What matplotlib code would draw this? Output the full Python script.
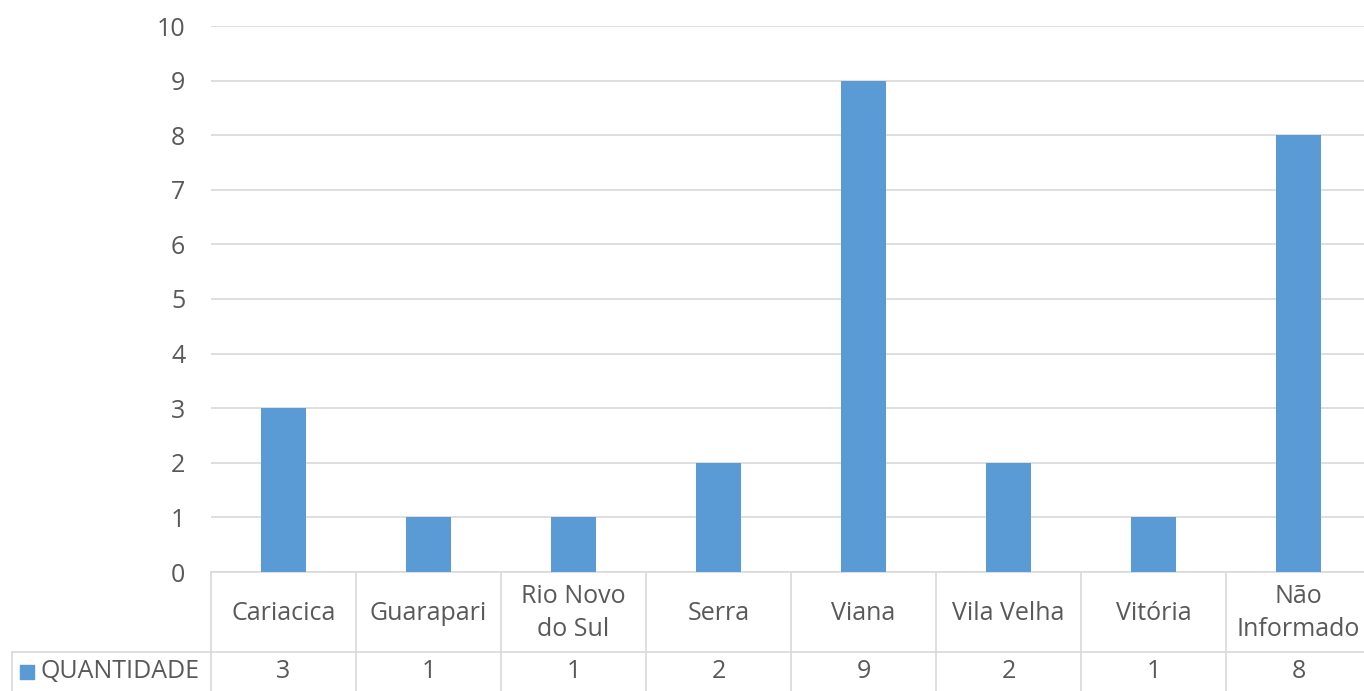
import matplotlib
matplotlib.use("Agg")
import matplotlib.pyplot as plt

categories = ["Cariacica", "Guarapari", "Rio Novo\ndo Sul", "Serra", "Viana",
              "Vila Velha", "Vitória", "Não\nInformado"]
quantidade = [3, 1, 1, 2, 9, 2, 1, 8]
series_name = "QUANTIDADE"
yticks = list(range(0, 11))

BLUE = "#5B9BD5"
GRID = "#D9D9D9"
TEXT = "#595959"
FS = 18

plt.rcParams["font.family"] = ["Open Sans", "DejaVu Sans"]

fig = plt.figure(figsize=(13.64, 6.91), dpi=100)
# plot area runs a little past the right edge of the image, as in the source
ax = fig.add_axes([211 / 1364, 119 / 691, 1160 / 1364, 546 / 691])

n = len(categories)
xs = [i + 0.5 for i in range(n)]
ax.bar(xs, quantidade, width=0.31, color=BLUE, zorder=3)

ax.set_xlim(0, n)
ax.set_ylim(0, 10)
ax.set_yticks(yticks)
ax.set_yticklabels([str(t) for t in yticks], fontsize=FS, color=TEXT)
ax.tick_params(axis="y", length=0, pad=18.5)
ax.set_xticks([])
ax.grid(axis="y", color=GRID, linewidth=1.2, zorder=0)
for s in ["top", "right", "left"]:
    ax.spines[s].set_visible(False)
ax.spines["bottom"].set_color(GRID)
ax.spines["bottom"].set_linewidth(1.2)

# data table below the axis
px = 1 / 546  # axes-fraction per pixel (vertical)
row1 = -80 * px
row2 = -119 * px
row_bottom = -125 * px  # table continues past the image edge
left_x = (12 - 211) / 1160 * n  # in data units
tr = ax.get_xaxis_transform()
line_kw = dict(color=GRID, linewidth=1.2, clip_on=False, transform=tr)

for i in range(n + 1):
    ax.plot([i, i], [0, row_bottom], **line_kw)
ax.plot([left_x, n], [row1, row1], **line_kw)
ax.plot([left_x, left_x], [row1, row_bottom], **line_kw)

for x, cat, val in zip(xs, categories, quantidade):
    ax.text(x, row1 / 2 - 1 * px, cat, transform=tr, ha="center", va="center",
            fontsize=FS, color=TEXT, linespacing=1.45)
    ax.text(x, (row1 + row2) / 2, str(val), transform=tr, ha="center",
            va="center", fontsize=FS, color=TEXT)

ax.scatter([left_x + 0.105], [(row1 + row2) / 2], marker="s", s=100,
           color=BLUE, transform=tr, clip_on=False)
ax.text(left_x + 0.2, (row1 + row2) / 2, series_name, transform=tr,
        ha="left", va="center", fontsize=FS, color=TEXT)

fig.savefig("out.png", dpi=100)
